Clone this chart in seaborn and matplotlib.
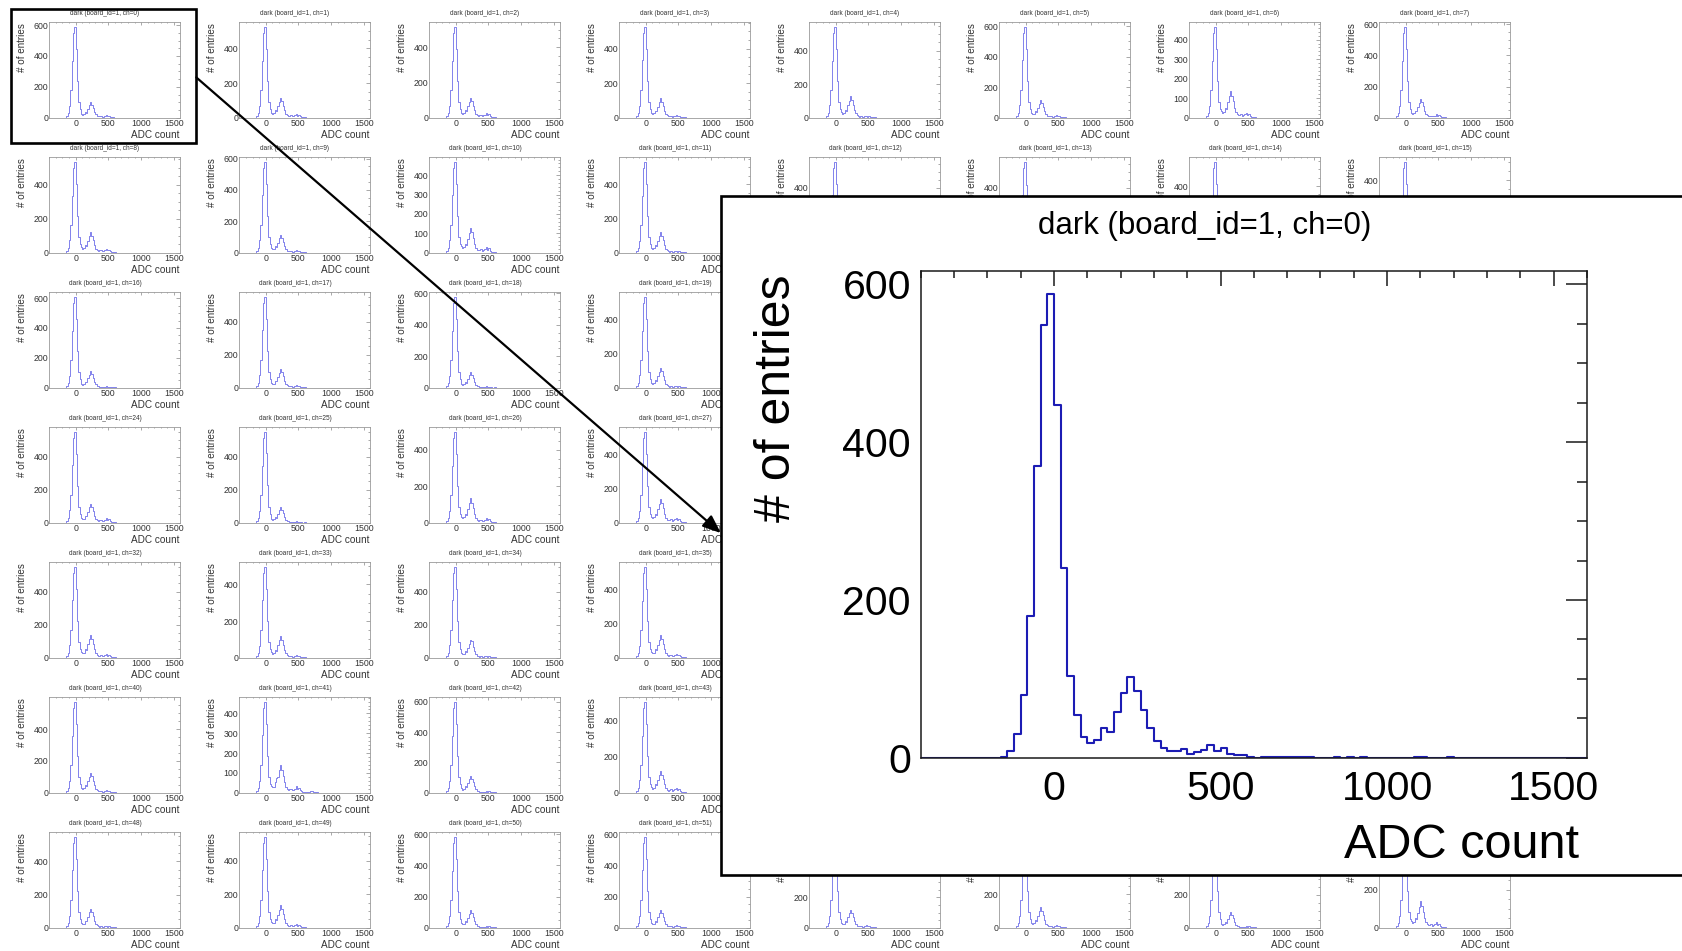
import numpy as np
import pandas as pd
import matplotlib
matplotlib.use("Agg")
import matplotlib.pyplot as plt
from matplotlib.patches import Rectangle, FancyArrowPatch, ArrowStyle
from matplotlib.ticker import MultipleLocator, FixedLocator
import seaborn as sns

# ---------------------------------------------------------------- data
# ADC histograms, 20-count bins, range -400..1600; lists start at the -160 bin
BIN_WIDTH = 20
X_RANGE = (-400, 1600)
FIRST_EDGE = -160
BOARD_ID = 1
TITLE_PREFIX = "dark"
X_TITLE = "ADC count"
Y_TITLE = "# of entries"
X_TICKS = [0, 500, 1000, 1500]

ch00 = [1, 9, 30, 79, 180, 370, 549, 588, 447, 240, 103, 54,
        26, 19, 23, 38, 33, 58, 82, 102, 84, 61, 38, 21, 12, 9,
        9, 11, 5, 7, 10, 16, 8, 12, 5, 3, 3, 1,
        0, 1, 1, 1, 1, 1, 1, 1, 1, 0, 0, 0, 1, 0, 1, 0, 1, 0, 0, 0,
        0, 0, 0, 0, 1, 1, 0, 0, 0, 1]
ch01 = [1, 8, 26, 70, 160, 330, 489, 524, 398, 214, 92, 48, 29, 22, 26, 43, 38, 66, 93, 116, 95, 70, 43, 23, 14, 10, 11, 13, 7, 9, 13, 20, 11, 15, 7, 4, 4]
ch02 = [1, 8, 26, 69, 158, 324, 481, 515, 391, 210, 90, 47, 28, 21, 25, 41, 37, 64, 90, 112, 92, 67, 41, 22, 13, 10, 15, 18, 10, 13, 18, 28, 15, 21, 10, 6, 5]
ch03 = [1, 8, 26, 70, 161, 331, 490, 525, 399, 214, 92, 48, 28, 21, 25, 41, 37, 64, 90, 112, 92, 67, 41, 22, 13, 10, 9, 10, 6, 7, 10, 16, 9, 12, 6, 3, 3]
ch04 = [1, 9, 27, 73, 166, 341, 506, 542, 412, 221, 95, 50, 32, 24, 28, 47, 42, 73, 102, 128, 105, 77, 47, 26, 15, 12, 7, 8, 4, 5, 8, 12, 7, 9, 4, 2, 2]
ch05 = [1, 10, 30, 80, 182, 375, 556, 595, 452, 243, 104, 55, 29, 22, 25, 43, 38, 66, 92, 115, 94, 69, 43, 23, 14, 10, 8, 10, 5, 7, 10, 15, 8, 11, 5, 3, 3]
ch06 = [1, 7, 23, 62, 142, 293, 434, 465, 353, 190, 81, 43, 35, 26, 30, 51, 46, 79, 110, 138, 113, 83, 51, 28, 17, 12, 14, 17, 9, 12, 17, 26, 14, 20, 9, 5, 5]
ch07 = [1, 9, 29, 78, 178, 367, 545, 583, 443, 238, 102, 54, 30, 23, 27, 45, 40, 69, 97, 121, 99, 73, 45, 24, 15, 11, 12, 14, 8, 10, 14, 22, 12, 17, 8, 4, 4]
ch08 = [1, 9, 27, 72, 163, 336, 499, 534, 406, 218, 93, 49, 31, 23, 27, 45, 40, 70, 98, 122, 100, 73, 45, 24, 15, 11, 13, 16, 8, 11, 16, 24, 13, 18, 8, 5, 4]
ch09 = [1, 9, 29, 78, 177, 365, 541, 579, 440, 236, 101, 53, 29, 22, 25, 42, 38, 65, 91, 114, 93, 68, 42, 23, 14, 10, 8, 10, 5, 7, 10, 15, 8, 11, 5, 3, 3]
ch10 = [1, 7, 23, 63, 143, 295, 437, 468, 356, 191, 82, 43, 32, 24, 28, 47, 42, 73, 102, 128, 105, 77, 47, 26, 15, 12, 16, 19, 10, 13, 19, 29, 16, 22, 10, 6, 5]
ch11 = [1, 9, 27, 71, 163, 335, 497, 532, 404, 217, 93, 49, 30, 23, 26, 44, 40, 68, 96, 120, 98, 72, 44, 24, 14, 11, 7, 8, 4, 5, 8, 12, 7, 9, 4, 2, 2]
ch12 = [1, 9, 28, 75, 171, 353, 523, 560, 426, 228, 98, 52, 30, 22, 26, 44, 39, 67, 94, 118, 97, 71, 44, 24, 14, 11, 10, 12, 6, 8, 12, 18, 10, 14, 6, 4, 3]
ch13 = [2, 10, 30, 77, 175, 356, 520, 560, 420, 225, 96, 50, 28, 21, 25, 41, 37, 64, 90, 112, 92, 67, 41, 22, 13, 10, 9, 10, 6, 7, 10, 16, 9, 12, 6, 3, 3]
ch14 = [1, 9, 27, 73, 167, 343, 509, 545, 414, 222, 95, 50, 31, 24, 28, 46, 41, 71, 100, 125, 103, 75, 46, 25, 15, 11, 11, 13, 7, 9, 13, 20, 11, 15, 7, 4, 4]
ch15 = [1, 8, 25, 67, 153, 315, 467, 500, 380, 204, 88, 46, 30, 23, 26, 44, 40, 68, 96, 120, 98, 72, 44, 24, 14, 11, 10, 12, 6, 8, 12, 18, 10, 14, 6, 4, 3]
ch16 = [1, 10, 30, 81, 186, 383, 568, 608, 462, 248, 106, 56, 27, 21, 24, 40, 36, 62, 87, 109, 89, 65, 40, 22, 13, 10, 6, 7, 4, 5, 7, 10, 6, 8, 4, 2, 2]
ch17 = [1, 9, 28, 74, 168, 347, 514, 550, 418, 224, 96, 51, 29, 22, 25, 43, 38, 66, 92, 115, 94, 69, 43, 23, 14, 10, 8, 10, 5, 7, 10, 15, 8, 11, 5, 3, 3]
ch18 = [1, 9, 29, 77, 177, 364, 540, 578, 439, 236, 101, 53, 25, 19, 22, 37, 33, 57, 80, 100, 82, 60, 37, 20, 12, 9, 4, 5, 3, 4, 5, 8, 4, 6, 3, 2, 1]
ch19 = [1, 9, 27, 72, 164, 337, 500, 535, 407, 218, 94, 49, 29, 22, 26, 43, 39, 67, 94, 117, 96, 70, 43, 23, 14, 11, 7, 8, 4, 5, 8, 12, 7, 9, 4, 2, 2]
ch20 = [1, 9, 27, 72, 165, 340, 504, 540, 410, 220, 95, 50, 30, 23, 26, 44, 40, 68, 96, 120, 98, 72, 44, 24, 14, 11, 10, 12, 6, 8, 12, 18, 10, 14, 6, 4, 3]
ch21 = [1, 8, 26, 70, 159, 328, 486, 520, 395, 212, 91, 48, 29, 22, 25, 43, 38, 66, 92, 115, 94, 69, 43, 23, 14, 10, 8, 10, 5, 7, 10, 15, 8, 11, 5, 3, 3]
ch22 = [1, 9, 28, 75, 171, 353, 523, 560, 426, 228, 98, 52, 28, 21, 24, 41, 36, 63, 88, 110, 90, 66, 41, 22, 13, 10, 8, 9, 5, 6, 9, 14, 8, 11, 5, 3, 3]
ch23 = [1, 8, 25, 67, 153, 315, 467, 500, 380, 204, 88, 46, 31, 24, 28, 46, 41, 71, 100, 125, 103, 75, 46, 25, 15, 11, 11, 13, 7, 9, 13, 20, 11, 15, 7, 4, 4]
ch24 = [1, 9, 27, 74, 168, 346, 513, 549, 417, 224, 96, 51, 29, 22, 25, 43, 38, 66, 92, 115, 94, 69, 43, 23, 14, 10, 14, 17, 9, 12, 17, 26, 14, 20, 9, 5, 5]
ch25 = [1, 8, 26, 72, 165, 344, 515, 549, 420, 226, 97, 50, 24, 18, 21, 35, 31, 54, 76, 95, 78, 57, 35, 19, 11, 9, 4, 5, 3, 4, 5, 8, 4, 6, 3, 2, 1]
ch26 = [1, 8, 25, 67, 153, 314, 466, 499, 379, 204, 87, 46, 34, 26, 30, 50, 45, 77, 108, 135, 111, 81, 50, 27, 16, 12, 13, 16, 8, 11, 16, 24, 13, 18, 8, 5, 4]
ch27 = [1, 8, 27, 71, 162, 334, 495, 530, 403, 216, 93, 49, 35, 27, 31, 52, 46, 80, 112, 140, 115, 84, 52, 28, 17, 13, 16, 19, 10, 13, 19, 29, 16, 22, 10, 6, 5]
ch28 = [1, 9, 28, 74, 170, 350, 518, 555, 422, 226, 97, 51, 30, 22, 26, 44, 39, 67, 94, 118, 97, 71, 44, 24, 14, 11, 9, 10, 6, 7, 10, 16, 9, 12, 6, 3, 3]
ch29 = [1, 8, 26, 68, 156, 321, 476, 510, 388, 208, 89, 47, 31, 24, 28, 46, 41, 71, 100, 125, 103, 75, 46, 25, 15, 11, 11, 13, 7, 9, 13, 20, 11, 15, 7, 4, 4]
ch30 = [1, 9, 29, 76, 174, 359, 532, 570, 433, 233, 100, 52, 26, 20, 23, 39, 35, 60, 84, 105, 86, 63, 39, 21, 13, 9, 7, 8, 4, 5, 8, 12, 7, 9, 4, 2, 2]
ch31 = [1, 8, 27, 71, 162, 334, 495, 530, 403, 216, 93, 49, 30, 23, 26, 44, 40, 68, 96, 120, 98, 72, 44, 24, 14, 11, 10, 12, 6, 8, 12, 18, 10, 14, 6, 4, 3]
ch32 = [1, 9, 28, 74, 168, 347, 514, 550, 418, 224, 96, 51, 35, 27, 31, 52, 46, 80, 112, 140, 115, 84, 52, 28, 17, 13, 13, 16, 8, 11, 16, 24, 13, 18, 8, 5, 4]
ch33 = [1, 8, 25, 66, 151, 312, 462, 495, 376, 202, 87, 46, 29, 22, 26, 43, 39, 67, 94, 117, 96, 70, 43, 23, 14, 11, 7, 8, 4, 5, 8, 12, 7, 9, 4, 2, 2]
ch34 = [1, 9, 28, 74, 168, 347, 514, 550, 418, 224, 96, 51, 26, 20, 23, 39, 35, 60, 84, 105, 102, 63, 39, 21, 13, 9, 7, 8, 4, 5, 8, 12, 7, 9, 4, 2, 2]
ch35 = [1, 8, 26, 71, 162, 333, 494, 529, 402, 216, 93, 49, 33, 25, 29, 48, 43, 75, 105, 131, 107, 79, 48, 26, 16, 12, 13, 15, 8, 10, 15, 23, 13, 17, 8, 5, 4]
ch36 = [1, 9, 27, 73, 167, 343, 509, 545, 414, 222, 95, 50, 29, 22, 25, 43, 38, 66, 92, 115, 94, 69, 43, 23, 14, 10, 8, 10, 5, 7, 10, 15, 8, 11, 5, 3, 3]
ch37 = [1, 8, 26, 70, 159, 328, 486, 520, 395, 212, 91, 48, 31, 23, 27, 45, 40, 70, 98, 122, 100, 73, 45, 24, 15, 11, 10, 12, 6, 8, 12, 18, 10, 14, 6, 4, 3]
ch38 = [1, 9, 29, 77, 176, 362, 537, 575, 437, 235, 101, 53, 27, 21, 24, 40, 36, 62, 86, 108, 89, 65, 40, 22, 13, 10, 7, 8, 4, 5, 8, 12, 7, 9, 4, 2, 2]
ch39 = [1, 8, 25, 68, 155, 318, 472, 505, 384, 206, 88, 46, 32, 24, 28, 47, 42, 73, 102, 128, 105, 77, 47, 26, 15, 12, 12, 14, 8, 10, 14, 22, 12, 17, 8, 4, 4]
ch40 = [1, 9, 29, 76, 174, 359, 532, 570, 433, 233, 100, 52, 31, 24, 27, 46, 41, 71, 99, 124, 102, 74, 46, 25, 15, 11, 8, 10, 5, 7, 10, 15, 8, 11, 5, 3, 3]
ch41 = [1, 7, 23, 61, 140, 289, 428, 458, 348, 187, 80, 42, 36, 27, 31, 53, 75, 81, 114, 142, 116, 85, 53, 28, 17, 13, 18, 21, 12, 15, 21, 33, 18, 25, 12, 7, 6,
        5, 4, 4, 5, 6, 8, 7, 5, 4, 3, 2, 1]
ch42 = [1, 10, 30, 80, 184, 378, 560, 600, 456, 245, 105, 55, 28, 21, 25, 42, 37, 64, 90, 113, 93, 68, 42, 23, 14, 10, 6, 7, 4, 5, 7, 10, 6, 8, 4, 2, 2]
ch43 = [1, 8, 25, 68, 155, 318, 472, 505, 384, 206, 88, 46, 31, 23, 27, 46, 41, 70, 98, 123, 101, 74, 46, 25, 15, 11, 15, 18, 10, 13, 18, 28, 15, 21, 10, 6, 5]
ch44 = [1, 9, 27, 72, 165, 340, 504, 540, 410, 220, 95, 50, 30, 23, 26, 44, 40, 68, 96, 120, 98, 72, 44, 24, 14, 11, 9, 10, 6, 7, 10, 16, 9, 12, 6, 3, 3]
ch45 = [1, 9, 28, 75, 171, 353, 523, 560, 426, 228, 98, 52, 28, 21, 25, 41, 37, 64, 90, 112, 92, 67, 41, 22, 13, 10, 8, 9, 5, 6, 9, 14, 8, 11, 5, 3, 3]
ch46 = [1, 8, 26, 69, 158, 324, 481, 515, 391, 210, 90, 47, 33, 25, 29, 48, 43, 74, 104, 130, 107, 78, 48, 26, 16, 12, 12, 14, 8, 10, 14, 22, 12, 17, 8, 4, 4]
ch47 = [1, 9, 28, 74, 168, 347, 514, 550, 418, 224, 96, 51, 30, 22, 26, 44, 39, 67, 94, 118, 97, 71, 44, 24, 14, 11, 8, 10, 5, 7, 10, 15, 8, 11, 5, 3, 3]
ch48 = [1, 9, 27, 73, 167, 345, 511, 547, 416, 223, 96, 50, 29, 22, 25, 43, 38, 66, 92, 115, 94, 69, 43, 23, 14, 10, 7, 8, 4, 5, 8, 12, 7, 9, 4, 2, 2]
ch49 = [1, 9, 27, 73, 166, 343, 508, 544, 413, 222, 95, 50, 34, 26, 30, 50, 45, 77, 108, 135, 111, 81, 50, 27, 16, 12, 12, 14, 8, 10, 14, 22, 12, 17, 8, 4, 4]
ch50 = [1, 9, 29, 78, 178, 367, 545, 583, 443, 238, 102, 54, 28, 21, 25, 41, 37, 64, 90, 112, 92, 67, 41, 22, 13, 10, 6, 7, 4, 5, 7, 10, 6, 8, 4, 2, 2]
ch51 = [1, 9, 29, 78, 179, 369, 546, 585, 445, 239, 102, 54, 29, 22, 26, 43, 39, 67, 94, 117, 96, 70, 43, 23, 14, 11, 8, 10, 5, 7, 10, 15, 8, 11, 5, 3, 3]
ch52 = [1, 10, 30, 80, 184, 378, 560, 600, 456, 245, 105, 55, 30, 23, 26, 44, 40, 68, 96, 120, 98, 72, 44, 24, 14, 11, 8, 10, 5, 7, 10, 15, 8, 11, 5, 3, 3]
ch53 = [1, 9, 27, 73, 167, 343, 509, 545, 414, 222, 95, 50, 31, 24, 28, 46, 41, 71, 100, 125, 103, 75, 46, 25, 15, 11, 8, 10, 5, 7, 10, 15, 8, 11, 5, 3, 3]
ch54 = [1, 9, 28, 74, 170, 350, 518, 555, 422, 226, 97, 51, 24, 18, 21, 35, 31, 54, 76, 95, 78, 57, 35, 19, 11, 9, 6, 7, 4, 5, 7, 10, 6, 8, 4, 2, 2]
ch55 = [1, 8, 24, 64, 147, 302, 448, 480, 365, 196, 84, 44, 35, 27, 31, 52, 46, 80, 112, 140, 115, 84, 52, 28, 17, 13, 15, 18, 10, 13, 18, 28, 15, 21, 10, 6, 5]

# sparse single-count tail above 580 ADC shared by most channels
tail_counts = [2, 2, 1, 1, 1, 1, 1, 1, 1, 1, 1]

channel_counts = [ch00, ch01, ch02, ch03, ch04, ch05, ch06, ch07,
                  ch08, ch09, ch10, ch11, ch12, ch13, ch14, ch15,
                  ch16, ch17, ch18, ch19, ch20, ch21, ch22, ch23,
                  ch24, ch25, ch26, ch27, ch28, ch29, ch30, ch31,
                  ch32, ch33, ch34, ch35, ch36, ch37, ch38, ch39,
                  ch40, ch41, ch42, ch43, ch44, ch45, ch46, ch47,
                  ch48, ch49, ch50, ch51, ch52, ch53, ch54, ch55]

N_COLS, N_ROWS = 8, 7
ZOOM_CHANNEL = 0

# ---------------------------------------------------------------- helpers
W, H, DPI = 1682, 951, 100
PAD_W, PAD_H = 190, 135
ZOOM_BOX = (721, 196, 1700, 875)   # left, top, right, bottom in pixels

sns.set_style("white")
plt.rcParams["font.family"] = ["Liberation Sans", "DejaVu Sans"]

edges = np.arange(X_RANGE[0], X_RANGE[1] + BIN_WIDTH, BIN_WIDTH)
centers = edges[:-1] + BIN_WIDTH / 2


def full_counts(values, with_tail):
    c = np.zeros(len(centers))
    start = (FIRST_EDGE - X_RANGE[0]) // BIN_WIDTH
    vals = list(values)
    if with_tail:
        vals = vals + tail_counts
    c[start:start + len(vals)] = vals
    return c


def nice_step(span):
    """ROOT-like axis optimisation: about five primary divisions."""
    raw = span / 5.0
    mag = 10 ** np.floor(np.log10(raw))
    for m in (1, 2, 5, 10):
        if m * mag >= raw - 1e-9:
            return m * mag
    return 10 * mag


def fbox(left, top, width, height):
    return [left / W, 1 - (top + height) / H, width / W, height / H]


def fxy(px, py):
    return px / W, 1 - py / H


def style_axes(ax, ymax, col, lw, xlen, ylen, lsize, lcolor, xpad, ypad):
    ax.set_xlim(*X_RANGE)
    ax.set_ylim(0, ymax)
    ax.set_xlabel("")
    ax.set_ylabel("")
    ax.xaxis.set_major_locator(FixedLocator(X_TICKS))
    ax.xaxis.set_minor_locator(MultipleLocator(nice_step(X_TICKS[1] - X_TICKS[0])))
    ystep = nice_step(ymax)
    ax.yaxis.set_major_locator(MultipleLocator(ystep))
    ax.yaxis.set_minor_locator(MultipleLocator(nice_step(ystep)))
    ax.tick_params(which="both", direction="in", top=True, right=True,
                   color=col, width=lw, labelsize=lsize, labelcolor=lcolor)
    ax.tick_params(axis="x", which="major", length=xlen, pad=xpad)
    ax.tick_params(axis="x", which="minor", length=xlen / 2)
    ax.tick_params(axis="y", which="major", length=ylen, pad=ypad)
    ax.tick_params(axis="y", which="minor", length=ylen / 2)
    for s in ax.spines.values():
        s.set_color(col)
        s.set_linewidth(lw)
        s.set_visible(True)
    ax.set_facecolor("none")


def draw_hist(ax, counts, color, lw):
    frame = pd.DataFrame({"adc": centers, "entries": counts})
    sns.histplot(data=frame, x="adc", weights="entries", bins=list(edges),
                 element="step", fill=False, color=color, linewidth=lw, ax=ax)


def title_of(ch):
    return f"{TITLE_PREFIX} (board_id={BOARD_ID}, ch={ch})"


fig = plt.figure(figsize=(W / DPI, H / DPI), dpi=DPI)
fig.patch.set_facecolor("white")

# ---------------------------------------------------------------- grid of channels
grid_axes = []
for ch, values in enumerate(channel_counts):
    r, c = divmod(ch, N_COLS)
    ox, oy = c * PAD_W, r * PAD_H
    counts = full_counts(values, with_tail=(ch not in (0, 41)))
    ymax = 1.05 * counts.max()
    ax = fig.add_axes(fbox(ox + 49.4, oy + 22.4, 131.0, 95.3), zorder=1)
    draw_hist(ax, counts, "#8282ec", 0.7)
    style_axes(ax, ymax, col="#9a9a9a", lw=0.6, xlen=2.1, ylen=2.8,
               lsize=6.3, lcolor="#333333", xpad=1.0, ypad=0.8)
    tx, ty = fxy(ox + 105, oy + 13.3)
    ax.text(tx, ty, title_of(ch), transform=fig.transFigure, ha="center",
            va="center", fontsize=4.7, color="#333333")
    tx, ty = fxy(ox + 21.8, oy + 22.7)
    ax.text(tx, ty, Y_TITLE, transform=fig.transFigure, ha="center", va="top",
            rotation=90, fontsize=7.1, color="#333333")
    tx, ty = fxy(ox + 179.5, oy + 135.0)
    ax.text(tx, ty, X_TITLE, transform=fig.transFigure, ha="right",
            va="center", fontsize=7.2, color="#333333")
    grid_axes.append(ax)

# ---------------------------------------------------------------- highlight of channel 0
hx0, hy0 = fxy(10.7, 142.7)
hx1, hy1 = fxy(196.3, 8.6)
fig.add_artist(Rectangle((hx0, hy0), hx1 - hx0, hy1 - hy0, transform=fig.transFigure,
                         fill=False, edgecolor="black", linewidth=1.9, zorder=20))

# ---------------------------------------------------------------- magnified channel
bx0, by0 = fxy(ZOOM_BOX[0], ZOOM_BOX[3])
bx1, by1 = fxy(ZOOM_BOX[2], ZOOM_BOX[1])
fig.add_artist(Rectangle((bx0, by0), bx1 - bx0, by1 - by0, transform=fig.transFigure,
                         facecolor="white", edgecolor="black", linewidth=1.9, zorder=10))

zoom_counts = full_counts(channel_counts[ZOOM_CHANNEL], with_tail=False)
zax = fig.add_axes(fbox(920.7, 270.7, 666.3, 487.0), zorder=11)
draw_hist(zax, zoom_counts, "#1c1cb4", 1.5)
style_axes(zax, 1.05 * zoom_counts.max(), col="#1a1a1a", lw=1.1, xlen=10.5,
           ylen=15.0, lsize=29.5, lcolor="black", xpad=9.0, ypad=7.0)
tx, ty = fxy(1205, 226)
zax.text(tx, ty, title_of(ZOOM_CHANNEL), transform=fig.transFigure, ha="center",
         va="center", fontsize=22.5, color="black")
tx, ty = fxy(777, 275)
zax.text(tx, ty, Y_TITLE, transform=fig.transFigure, ha="center", va="top",
         rotation=90, fontsize=36, color="black")
tx, ty = fxy(1579, 846)
zax.text(tx, ty, X_TITLE, transform=fig.transFigure, ha="right", va="center",
         fontsize=35, color="black")

ax0, ay0 = fxy(196.3, 77.4)
ax1, ay1 = fxy(720.9, 533.1)
fig.add_artist(FancyArrowPatch((ax0, ay0), (ax1, ay1), transform=fig.transFigure,
                               arrowstyle=ArrowStyle("-|>", head_length=0.55, head_width=0.22),
                               mutation_scale=20, linewidth=1.6, color="black",
                               shrinkA=0, shrinkB=0, zorder=21))

# ---------------------------------------------------------------- drop what the magnified box covers
fig.canvas.draw()
renderer = fig.canvas.get_renderer()
cover_x0, cover_x1 = ZOOM_BOX[0], ZOOM_BOX[2]
cover_y0, cover_y1 = H - ZOOM_BOX[3], H - ZOOM_BOX[1]


def covered(bb):
    return (bb.x0 >= cover_x0 and bb.x1 <= cover_x1 and
            bb.y0 >= cover_y0 and bb.y1 <= cover_y1)


for ax in grid_axes:
    if covered(ax.get_tightbbox(renderer)):
        ax.set_visible(False)
        continue
    for t in list(ax.texts) + ax.get_xticklabels() + ax.get_yticklabels():
        if t.get_visible() and t.get_text() and covered(t.get_window_extent(renderer)):
            t.set_visible(False)

fig.savefig("out.png", dpi=DPI, facecolor="white")
